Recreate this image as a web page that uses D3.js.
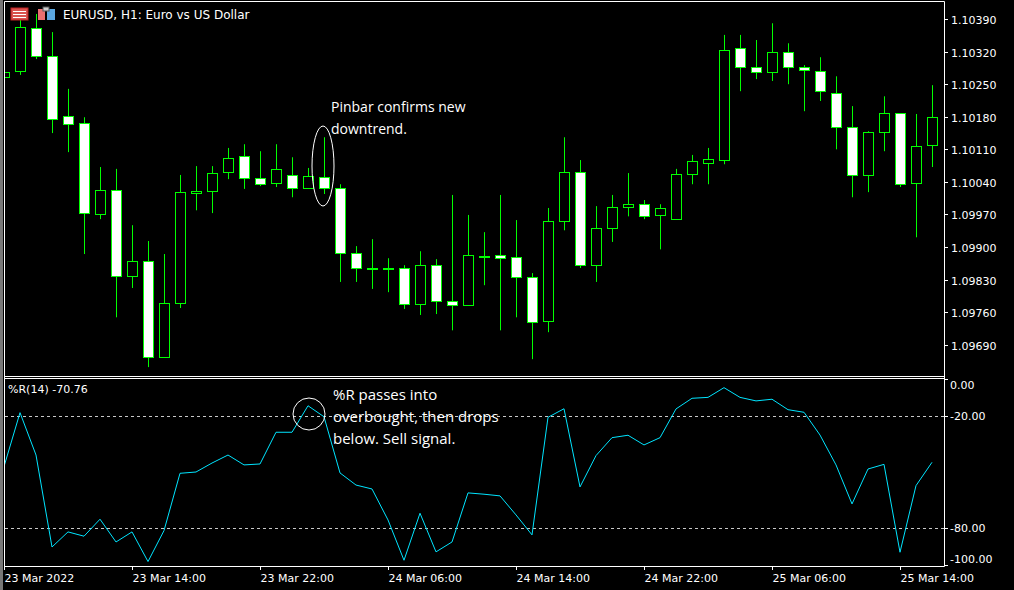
<!DOCTYPE html>
<html><head><meta charset="utf-8">
<script src="https://cdn.jsdelivr.net/npm/d3@7"></script>
<style>body{margin:0;background:#000}svg{display:block}</style>
</head><body>
<svg id="c" width="1014" height="590"></svg>
<script>
const opens  = [1.10265,1.10278,1.10371,1.10310,1.10181,1.10166,1.09971,1.10022,1.09837,1.09870,1.09663,1.09779,1.10016,1.10020,1.10061,1.10095,1.10048,1.10037,1.10055,1.10027,1.10050,1.10027,1.09887,1.09855,1.09855,1.09855,1.09777,1.09861,1.09784,1.09775,1.09880,1.09883,1.09878,1.09835,1.09741,1.09956,1.10061,1.09861,1.09941,1.09986,1.09992,1.09969,1.09960,1.10057,1.10080,1.10087,1.10328,1.10287,1.10276,1.10319,1.10287,1.10278,1.10231,1.10158,1.10055,1.10147,1.10188,1.10037,1.10119];
const highs  = [1.10276,1.10388,1.10401,1.10362,1.10240,1.10179,1.10072,1.10068,1.09947,1.09913,1.09885,1.10055,1.10074,1.10074,1.10113,1.10121,1.10106,1.10121,1.10093,1.10070,1.10136,1.10035,1.09902,1.09917,1.09876,1.09861,1.09891,1.09874,1.10012,1.09969,1.09932,1.10012,1.09958,1.09844,1.09984,1.10136,1.10087,1.09988,1.10012,1.10059,1.10001,1.09992,1.10068,1.10098,1.10113,1.10356,1.10356,1.10345,1.10381,1.10338,1.10291,1.10308,1.10267,1.10203,1.10149,1.10224,1.10188,1.10186,1.10248];
const lows   = [1.10265,1.10270,1.10304,1.10145,1.10104,1.09885,1.09960,1.09749,1.09812,1.09642,1.09663,1.09769,1.09979,1.09973,1.10046,1.10025,1.10031,1.10029,1.10007,1.10027,1.10014,1.09825,1.09825,1.09810,1.09803,1.09767,1.09754,1.09756,1.09721,1.09775,1.09818,1.09721,1.09749,1.09659,1.09717,1.09936,1.09855,1.09825,1.09911,1.09966,1.09960,1.09895,1.09960,1.10035,1.10035,1.10078,1.10235,1.10261,1.10257,1.10250,1.10192,1.10214,1.10110,1.10007,1.10018,1.10106,1.10029,1.09921,1.10072];
const closes = [1.10276,1.10373,1.10310,1.10175,1.10164,1.09973,1.10022,1.09837,1.09870,1.09663,1.09779,1.10018,1.10020,1.10059,1.10091,1.10048,1.10035,1.10068,1.10027,1.10052,1.10027,1.09887,1.09855,1.09855,1.09855,1.09777,1.09861,1.09784,1.09775,1.09883,1.09880,1.09876,1.09835,1.09739,1.09956,1.10061,1.09861,1.09941,1.09986,1.09992,1.09966,1.09984,1.10057,1.10085,1.10089,1.10323,1.10287,1.10276,1.10319,1.10287,1.10280,1.10235,1.10158,1.10055,1.10147,1.10188,1.10035,1.10117,1.10179];
const wpr = [-47.1,-18.2,-40.9,-90.2,-82.1,-84.4,-75.3,-87.5,-82.1,-98.0,-81.4,-50.7,-50.0,-45.2,-40.9,-46.2,-45.7,-28.7,-28.7,-14.5,-20.4,-50.5,-57.0,-59.1,-75.7,-97.3,-72.1,-92.8,-87.5,-61.2,-61.9,-62.8,-73.0,-83.7,-20.7,-16.1,-58.0,-41.2,-31.6,-30.3,-35.5,-31.6,-16.2,-10.5,-10.0,-4.8,-10.0,-11.9,-11.0,-16.6,-18.0,-30.2,-46.2,-67.1,-48.4,-45.9,-93.0,-57.3,-44.8];
const priceTicks = [1.10390,1.10320,1.10250,1.10180,1.10110,1.10040,1.09970,1.09900,1.09830,1.09760,1.09690];
const wprTicks = [0,-20,-80,-100];
const wprLevels = [-20,-80];
const timeLabels = [[0,"23 Mar 2022"],[8,"23 Mar 14:00"],[16,"23 Mar 22:00"],[24,"24 Mar 06:00"],[32,"24 Mar 14:00"],[40,"24 Mar 22:00"],[48,"25 Mar 06:00"],[56,"25 Mar 14:00"]];

const svg = d3.select("#c");
const F = "DejaVu Sans, sans-serif";
const x = d3.scaleLinear().domain([0,58]).range([4,932]);
const y = d3.scaleLinear().domain([1.09625,1.10431]).range([375,0]);
const yw = d3.scaleLinear().domain([-100,0]).range([565.3,378.7]);
const G = "#00ff00";

svg.append("defs").html('<clipPath id="cp1"><rect x="5" y="2" width="939" height="373"/></clipPath><clipPath id="cp2"><rect x="5" y="379" width="939" height="186"/></clipPath>');

// frame
svg.append("rect").attr("x",0).attr("y",0).attr("width",3).attr("height",590).attr("fill","#777");
const fr = svg.append("g").attr("stroke","#fff").attr("stroke-width",1).attr("fill","none");
fr.append("path").attr("d","M4.5,1.5H944.5V566.5H4.5Z");
fr.append("line").attr("x1",4).attr("x2",945).attr("y1",376.5).attr("y2",376.5);
fr.append("line").attr("x1",4).attr("x2",945).attr("y1",378.5).attr("y2",378.5);

// candles
const cg = svg.append("g").attr("clip-path","url(#cp1)");
const idx = d3.range(opens.length);
cg.selectAll("line.w").data(idx).join("line")
  .attr("x1",i=>Math.round(x(i))+0.5).attr("x2",i=>Math.round(x(i))+0.5)
  .attr("y1",i=>y(highs[i])).attr("y2",i=>y(lows[i])).attr("stroke",G).attr("stroke-width",1);
cg.selectAll("rect.b").data(idx).join("rect")
  .attr("x",i=>Math.round(x(i))-4.5).attr("width",10)
  .attr("y",i=>Math.round(y(Math.max(opens[i],closes[i])))+0.5)
  .attr("height",i=>Math.max(1,Math.round(Math.abs(y(opens[i])-y(closes[i])))))
  .attr("fill",i=>closes[i]<opens[i]?"#fff":"#000").attr("stroke",G).attr("stroke-width",1);

// price axis
const pa = svg.append("g");
priceTicks.forEach(p=>{
  const yy=Math.round(y(p))+0.5;
  pa.append("line").attr("x1",944).attr("x2",948).attr("y1",yy).attr("y2",yy).attr("stroke","#fff");
  pa.append("text").attr("x",951).attr("y",yy+4).attr("fill","#fff").attr("font-family",F).attr("font-size",11).text(p.toFixed(5));
});

// WPR
const wg = svg.append("g").attr("clip-path","url(#cp2)");
wprLevels.forEach(v=>{
  wg.append("line").attr("x1",5).attr("x2",944).attr("y1",Math.round(yw(v))+0.5).attr("y2",Math.round(yw(v))+0.5)
    .attr("stroke","#c8c8c8").attr("stroke-dasharray","3,3");
});
wg.append("path").datum(wpr).attr("fill","none").attr("stroke","#00e5ff").attr("stroke-width",1)
  .attr("d",d3.line().x((d,i)=>x(i)).y(d=>yw(d)));
const wlab = {0:385,"-20":416,"-80":528,"-100":559};
wprTicks.forEach(v=>{
  const yy=Math.round(yw(v))+0.5;
  svg.append("line").attr("x1",944).attr("x2",948).attr("y1",yy).attr("y2",yy).attr("stroke","#fff");
  svg.append("text").attr("x",950).attr("y",wlab[v]+4).attr("fill","#fff").attr("font-family",F).attr("font-size",11).text(v.toFixed(2));
});
svg.append("text").attr("x",8).attr("y",393).attr("fill","#fff").attr("font-family",F).attr("font-size",11).text("%R(14) -70.76");

// time axis
timeLabels.forEach(([i,t])=>{
  const xx=Math.round(x(i))+0.5;
  svg.append("line").attr("x1",xx).attr("x2",xx).attr("y1",566).attr("y2",570).attr("stroke","#fff");
  svg.append("text").attr("x",xx).attr("y",582).attr("fill","#fff").attr("font-family",F).attr("font-size",11).text(t);
});

// title + icons
svg.append("rect").attr("x",11).attr("y",8).attr("width",17).attr("height",12).attr("fill","#d9534f").attr("stroke","#b22");
[11,14,17].forEach(yy=>svg.append("line").attr("x1",13).attr("x2",26).attr("y1",yy+0.5).attr("y2",yy+0.5).attr("stroke","#fff"));
svg.append("rect").attr("x",38).attr("y",9).attr("width",7).attr("height",11).attr("fill","#e87070");
svg.append("rect").attr("x",47).attr("y",9).attr("width",8).attr("height",11).attr("fill","#5ba7e0");
svg.append("rect").attr("x",43).attr("y",7).attr("width",6).attr("height",4).attr("fill","#ccc").attr("stroke","#555");
svg.append("text").attr("x",63).attr("y",19).attr("fill","#fff").attr("font-family",F).attr("font-size",12).text("EURUSD, H1:  Euro vs US Dollar");

// annotations
const AF="Open Sans, sans-serif";
svg.append("ellipse").attr("cx",323).attr("cy",166).attr("rx",11).attr("ry",40).attr("fill","none").attr("stroke","#fff");
svg.append("text").attr("x",331).attr("y",112).attr("fill","#fff").attr("font-family",AF).attr("font-size",14).text("Pinbar confirms new");
svg.append("text").attr("x",331).attr("y",134).attr("fill","#fff").attr("font-family",AF).attr("font-size",14).text("downtrend.");
svg.append("circle").attr("cx",309).attr("cy",414).attr("r",16).attr("fill","none").attr("stroke","#fff");
["%R passes into","overbought, then drops","below. Sell signal."].forEach((t,k)=>{
  svg.append("text").attr("x",333).attr("y",400+k*22).attr("fill","#fff").attr("font-family",AF).attr("font-size",15).text(t);
});
</script>
</body></html>
